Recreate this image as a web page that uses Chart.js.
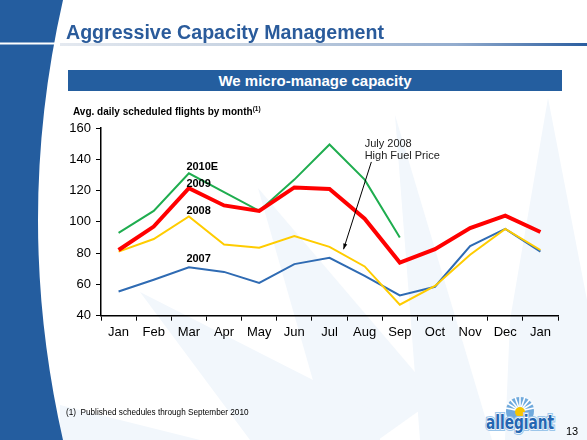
<!DOCTYPE html>
<html>
<head>
<meta charset="utf-8">
<script src="https://cdn.jsdelivr.net/npm/chart.js@4.4.1/dist/chart.umd.min.js"></script>
<style>
  html, body { margin: 0; padding: 0; }
  body { width: 587px; height: 440px; position: relative; overflow: hidden; background: #fff;
         font-family: "Liberation Sans", Arial, sans-serif; }
  #bg, #chart { position: absolute; left: 0; top: 0; }
  .abs { position: absolute; white-space: nowrap; }
  #title { left: 66px; top: 21px; font-size: 19.6px; font-weight: bold; color: #2a5b9b; }
  #rule { left: 60px; top: 43px; width: 527px; height: 2.5px;
          background: linear-gradient(to right, #e4e9f0 0%, #c2cfdf 40%, #93acce 75%, #2a5d9f 100%); }
  #banner { left: 68px; top: 70px; width: 494px; height: 21px; background: #245e9f;
            color: #fff; font-weight: bold; font-size: 15px; line-height: 21px; text-align: center; }
  #subtitle { left: 73px; top: 105px; font-size: 10px; font-weight: bold; color: #000; }
  #subtitle sup { font-size: 6.5px; }
  #foot { left: 66px; top: 408px; font-size: 8.2px; color: #000; }
  #page { left: 566px; top: 425px; font-size: 11px; color: #000; }
</style>
</head>
<body>
<svg id="bg" width="587" height="440">
  <g fill="#f2f7fc">
    <polygon points="258,188 437,398 378,440 330,440"/>
    <polygon points="395,115 492,440 420,440"/>
    <polygon points="140,292 378,413 380,440 250,440"/>
    <polygon points="548,98 587,300 587,440 505,440 510,320"/>
    <polygon points="60,405 200,440 60,440"/>
  </g>
  <path d="M0,0 L63,0 Q13,220 63,440 L0,440 Z" fill="#245d9f"/>
  <rect x="0" y="42.5" width="60" height="2" fill="#fff"/>
  <!-- logo -->
  <g>
    <circle cx="520" cy="411" r="14" fill="#6fa9dc"/>
    <g stroke="#fff" stroke-width="1.6">
      <line x1="520" y1="411" x2="520" y2="397"/>
      <line x1="520" y1="411" x2="507" y2="403"/>
      <line x1="520" y1="411" x2="533" y2="403"/>
      <line x1="520" y1="411" x2="510" y2="399"/>
      <line x1="520" y1="411" x2="530" y2="399"/>
      <line x1="520" y1="411" x2="506" y2="408"/>
      <line x1="520" y1="411" x2="534" y2="408"/>
      <line x1="520" y1="411" x2="515" y2="397"/>
      <line x1="520" y1="411" x2="525" y2="397"/>
    </g>
    <circle cx="520" cy="412" r="5" fill="#f6c500"/>
    <text x="520" y="429" text-anchor="middle" font-family="DejaVu Sans" font-weight="bold"
          font-size="19" textLength="68" lengthAdjust="spacingAndGlyphs"
          fill="#2466b2" stroke="#9cc6ea" stroke-width="4" paint-order="stroke">allegiant</text>
    <text x="520" y="429" text-anchor="middle" font-family="DejaVu Sans" font-weight="bold"
          font-size="19" textLength="68" lengthAdjust="spacingAndGlyphs"
          fill="#2466b2" stroke="#fff" stroke-width="1.6" paint-order="stroke">allegiant</text>
  </g>
</svg>
<canvas id="chart" width="587" height="440"></canvas>
<div class="abs" id="title">Aggressive Capacity Management</div>
<div class="abs" id="rule"></div>
<div class="abs" id="banner">We micro-manage capacity</div>
<div class="abs" id="subtitle">Avg. daily scheduled flights by month<sup>(1)</sup></div>
<div class="abs" id="foot">(1)&nbsp; Published schedules through September 2010</div>
<div class="abs" id="page">13</div>
<script>
// data
const months = ['Jan', 'Feb', 'Mar', 'Apr', 'May', 'Jun', 'Jul', 'Aug', 'Sep', 'Oct', 'Nov', 'Dec', 'Jan'];
const flights2010E = [93, 107, 131, 119, 107, 127, 149.5, 127, 90];
const flights2009 = [82, 97, 121.5, 110.5, 107, 122, 121, 102, 74, 82.5, 96, 104, 93.5];
const flights2008 = [81, 89, 103.5, 85.5, 83.5, 91, 84, 71.5, 47, 59, 79, 95.5, 82];
const flights2007 = [55.5, 63, 71, 68, 61, 73, 77, 65.5, 53, 58.5, 84.5, 95.5, 81];
const yTicks = [40, 60, 80, 100, 120, 140, 160];
const seriesNames = ['2009', '2010E', '2008', '2007'];

const FONT = '"Liberation Sans", Arial, sans-serif';

// series labels sit next to March, the fuel-price note points at Jul 2008
const annotations = {
    id: 'annotations',
    afterDatasetsDraw(chart) {
        const { ctx, scales: { x, y } } = chart;
        const marX = x.getPixelForValue(2) - 2.5;
        const labelY = { '2010E': 135, '2009': 124.5, '2008': 106.8, '2007': 76.2 };
        ctx.save();
        ctx.fillStyle = '#000';
        ctx.textBaseline = 'middle';
        ctx.font = 'bold 11px ' + FONT;
        for (const name of seriesNames) {
            ctx.fillText(name, marX, y.getPixelForValue(labelY[name]));
        }

        ctx.font = '11px ' + FONT;
        ctx.fillStyle = '#222';
        const noteX = x.getPixelForValue(7.0);
        ctx.fillText('July 2008', noteX, y.getPixelForValue(149.5));
        ctx.fillText('High Fuel Price', noteX, y.getPixelForValue(142.2));

        // arrow
        const x1 = x.getPixelForValue(7.19), y1 = y.getPixelForValue(138.3);
        const x2 = x.getPixelForValue(6.4), y2 = y.getPixelForValue(82.5);
        ctx.strokeStyle = '#000';
        ctx.lineWidth = 1;
        ctx.beginPath();
        ctx.moveTo(x1, y1);
        ctx.lineTo(x2, y2);
        ctx.stroke();
        const ang = Math.atan2(y2 - y1, x2 - x1);
        ctx.beginPath();
        ctx.moveTo(x2, y2);
        ctx.lineTo(x2 - 6 * Math.cos(ang - 0.35), y2 - 6 * Math.sin(ang - 0.35));
        ctx.lineTo(x2 - 6 * Math.cos(ang + 0.35), y2 - 6 * Math.sin(ang + 0.35));
        ctx.closePath();
        ctx.fillStyle = '#000';
        ctx.fill();
        ctx.restore();
    }
};

new Chart(document.getElementById('chart'), {
    type: 'line',
    data: {
        labels: months,
        datasets: [
            { label: seriesNames[0], data: flights2009, borderColor: '#ff0000', borderWidth: 4 },
            { label: seriesNames[1], data: flights2010E, borderColor: '#1fad4f', borderWidth: 2 },
            { label: seriesNames[2], data: flights2008, borderColor: '#ffcc00', borderWidth: 2 },
            { label: seriesNames[3], data: flights2007, borderColor: '#2f6bb3', borderWidth: 2 }
        ]
    },
    options: {
        responsive: false,
        animation: false,
        elements: {
            point: { radius: 0 },
            line: { tension: 0, borderJoinStyle: 'miter' }
        },
        layout: { padding: { left: 61, right: 29, top: 128, bottom: 0 } },
        plugins: {
            legend: { display: false },
            tooltip: { enabled: false }
        },
        scales: {
            x: {
                offset: true,
                grid: { offset: true, drawOnChartArea: false, color: '#000', tickLength: 5 },
                border: { display: true, color: '#000', width: 1.5 },
                ticks: { color: '#000', font: { family: FONT, size: 13 }, padding: 4, maxRotation: 0, autoSkip: false },
                afterFit: (scale) => { scale.height = 124.3; }
            },
            y: {
                min: 40,
                max: 160,
                afterBuildTicks: (scale) => { scale.ticks = yTicks.map(v => ({ value: v })); },
                grid: { drawOnChartArea: false, color: '#000', tickLength: 5 },
                border: { display: true, color: '#000', width: 1.5 },
                ticks: { color: '#000', font: { family: FONT, size: 13 }, padding: 5 },
                afterFit: (scale) => { scale.width = 40; }
            }
        }
    },
    plugins: [annotations]
});
</script>
</body>
</html>
